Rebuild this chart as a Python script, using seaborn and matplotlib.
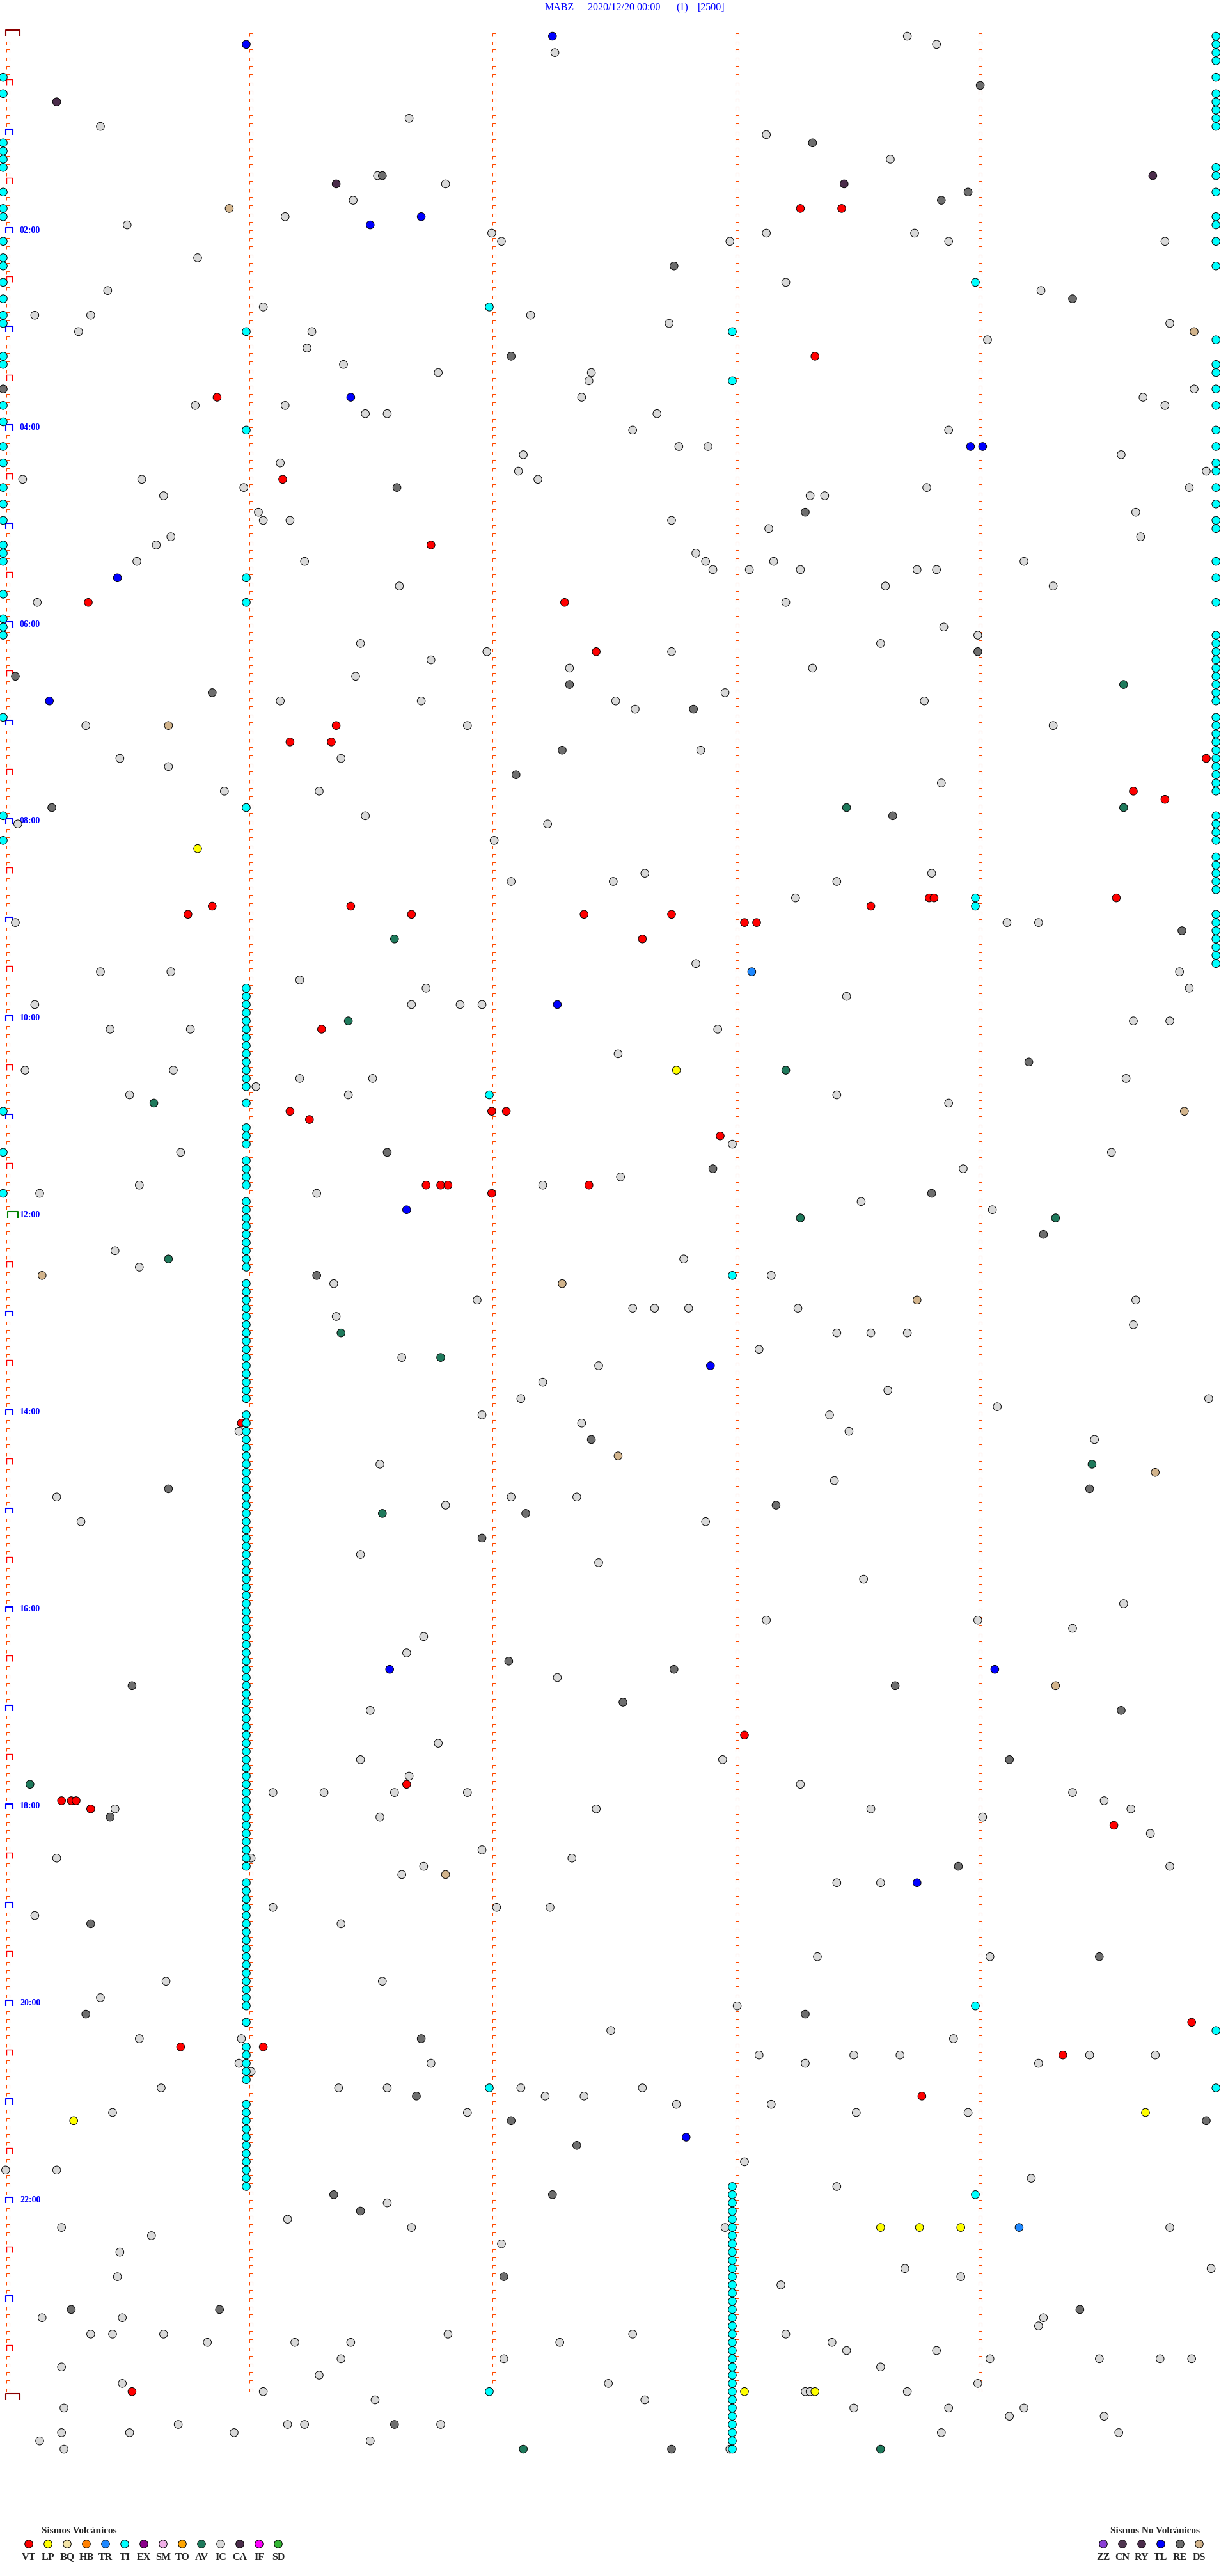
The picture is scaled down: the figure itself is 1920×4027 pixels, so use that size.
import numpy as np
import pandas as pd
import seaborn as sns
import matplotlib.pyplot as plt
from matplotlib.path import Path

# --------------
# event data: (row of 5 minutes, minute inside the row)
VT = [(21, 3.28), (21, 3.45), (39, 3.34), (44, 0.88), (54, 1.15), (62, 1.76), (69, 0.35), (69, 2.31),
      (75, 2.44), (84, 1.37), (86, 1.18), (86, 1.35), (88, 4.95), (92, 4.65), (93, 4.78), (105, 3.81),
      (105, 3.83), (105, 4.58), (106, 0.86), (106, 1.43), (106, 3.57), (107, 0.76), (107, 1.68),
      (107, 2.39), (107, 2.75), (108, 3.05), (108, 3.10), (110, 2.63), (121, 1.31), (131, 1.18),
      (132, 1.26), (131, 2.01), (131, 2.07), (134, 2.95), (140, 1.74), (140, 1.80), (140, 1.83),
      (141, 2.01), (140, 2.41), (169, 0.98), (207, 3.05), (213, 1.66), (215, 0.24), (215, 0.28),
      (215, 0.30), (216, 0.36), (218, 4.57), (242, 4.89), (245, 0.73), (245, 1.07), (246, 4.36),
      (251, 3.78), (287, 0.53)]
LP = [(99, 0.80), (126, 2.77), (254, 0.29), (253, 4.70), (267, 3.61), (267, 3.77), (267, 3.94),
      (287, 3.05), (287, 3.34)]
TR = [(114, 3.08), (267, 4.18)]
TL = [(1, 1.0), (0, 2.26), (22, 1.72), (23, 1.51), (44, 1.43), (50, 3.98), (50, 4.03), (66, 0.47),
      (81, 0.19), (118, 2.28), (143, 1.66), (162, 2.91), (199, 4.08), (199, 1.59), (225, 3.76), (256, 2.81)]
CA = [(8, 0.22), (17, 4.73), (18, 1.37), (18, 3.46)]
RE = [(6, 4.02), (13, 3.33), (17, 1.56), (19, 3.97), (20, 3.86), (28, 2.76), (32, 4.40), (39, 2.09),
      (43, 0.0), (55, 1.62), (58, 3.30), (75, 4.01), (78, 0.05), (79, 2.33), (80, 0.86), (82, 2.84),
      (87, 2.30), (90, 2.11), (94, 0.20), (95, 3.66), (109, 4.85), (125, 4.22), (136, 1.58), (138, 2.92),
      (141, 3.82), (146, 4.28), (151, 1.29), (171, 2.42), (177, 4.47), (177, 0.68), (179, 3.18),
      (180, 2.15), (183, 1.97), (198, 2.08), (199, 2.76), (201, 0.53), (201, 3.67), (203, 2.55),
      (204, 4.60), (210, 4.14), (217, 0.44), (223, 3.93), (230, 0.36), (234, 4.51), (241, 0.34),
      (241, 3.30), (244, 1.72), (251, 1.70), (254, 4.95), (254, 2.09), (257, 2.36), (263, 1.36),
      (265, 1.47), (263, 2.26), (273, 2.06), (277, 0.28), (277, 0.89), (277, 4.43), (291, 1.61), (294, 2.75)]
DS = [(21, 0.93), (36, 4.90), (84, 0.68), (131, 4.86), (151, 0.16), (152, 2.30), (154, 3.76),
      (173, 2.53), (175, 4.74), (201, 4.33), (224, 1.82)]
AV = [(79, 4.61), (94, 3.47), (94, 4.61), (110, 1.61), (120, 1.42), (126, 3.22), (130, 0.62),
      (144, 3.28), (144, 4.33), (149, 0.68), (158, 1.39), (161, 1.80), (174, 4.48), (180, 1.56),
      (213, 0.11), (294, 2.14), (294, 3.61)]
IC = [(2, 2.27), (0, 3.72), (1, 3.84), (10, 1.67), (11, 0.40), (12, 3.14), (15, 3.65), (17, 1.54),
      (20, 1.44), (18, 1.82), (22, 1.16), (23, 0.51), (24, 2.01), (25, 2.05), (25, 2.99), (24, 3.14),
      (24, 3.75), (25, 3.89), (25, 4.78), (27, 0.80), (31, 4.27), (30, 3.22), (31, 0.43), (33, 1.07),
      (34, 2.17), (34, 0.13), (34, 0.36), (36, 0.31), (36, 1.27), (35, 2.74), (35, 4.80), (38, 1.25),
      (37, 4.05), (40, 1.40), (41, 2.42), (42, 2.41), (41, 1.79), (43, 4.90), (44, 4.69), (45, 4.78),
      (45, 0.79), (45, 1.16), (46, 1.49), (46, 1.58), (44, 2.38), (46, 2.69), (48, 2.59), (48, 3.89),
      (50, 2.78), (50, 2.90), (51, 2.14), (52, 1.14), (54, 0.57), (54, 0.08), (53, 2.12), (54, 2.20),
      (55, 0.99), (56, 0.66), (56, 3.32), (56, 3.38), (55, 3.80), (53, 4.95), (51, 4.60), (55, 4.88),
      (58, 1.05), (59, 1.07), (59, 1.18), (58, 4.66), (59, 2.75), (60, 3.15), (61, 0.69), (62, 0.63),
      (61, 4.68), (63, 2.85), (64, 2.89), (65, 2.92), (64, 1.24), (64, 0.55), (65, 3.07), (64, 3.17),
      (65, 3.28), (65, 3.76), (65, 3.84), (64, 4.20), (67, 1.63), (67, 3.63), (67, 4.32), (69, 0.14),
      (69, 3.22), (72, 3.87), (73, 4.01), (74, 1.47), (75, 1.99), (75, 2.75), (74, 3.61), (77, 2.33),
      (76, 1.76), (78, 1.45), (77, 3.33), (81, 1.14), (81, 1.72), (81, 2.52), (82, 2.60), (80, 2.97),
      (81, 3.79), (84, 0.34), (88, 1.39), (84, 1.91), (87, 2.87), (84, 4.32), (88, 0.48), (89, 0.68),
      (91, 3.86), (92, 0.91), (92, 1.30), (95, 1.49), (96, 2.24), (96, 0.06), (98, 2.02), (102, 2.64),
      (103, 2.09), (103, 2.51), (103, 3.43), (102, 3.82), (105, 3.26), (108, 4.13), (108, 4.26),
      (108, 0.05), (113, 2.85), (114, 4.84), (114, 0.40), (114, 0.69), (115, 1.22), (116, 1.74),
      (118, 1.68), (118, 1.88), (118, 1.97), (117, 3.47), (116, 4.88), (118, 0.13), (121, 0.44),
      (121, 0.77), (121, 2.94), (120, 4.65), (120, 4.80), (124, 2.53), (126, 0.09), (126, 0.70),
      (127, 1.22), (127, 1.52), (128, 1.04), (127, 4.62), (129, 0.52), (129, 1.42), (129, 3.43),
      (130, 3.89), (135, 3.0), (136, 0.73), (140, 0.56), (136, 4.56), (140, 2.22), (139, 2.54),
      (138, 3.95), (141, 1.29), (141, 0.15), (142, 3.53), (143, 4.07), (148, 0.46), (150, 0.56),
      (149, 2.80), (152, 1.36), (151, 3.16), (156, 1.37), (155, 2.59), (155, 2.68), (155, 2.82),
      (155, 3.27), (154, 4.66), (157, 4.65), (154, 1.95), (158, 3.43), (158, 3.57), (158, 3.72),
      (161, 1.64), (160, 3.11), (162, 2.45), (164, 2.22), (166, 2.13), (165, 3.64), (166, 4.96),
      (167, 4.09), (168, 3.40), (169, 2.38), (170, 3.48), (168, 1.97), (170, 0.97), (171, 4.49),
      (174, 1.55), (176, 3.42), (178, 0.22), (178, 2.09), (178, 2.36), (179, 1.82), (181, 0.32),
      (181, 2.89), (185, 1.47), (186, 2.45), (188, 3.54), (191, 4.61), (193, 3.14), (193, 4.01),
      (194, 4.40), (195, 1.73), (197, 1.66), (200, 2.28), (204, 1.51), (208, 1.79), (210, 1.47),
      (210, 2.96), (213, 3.28), (212, 1.67), (214, 1.61), (214, 1.11), (214, 1.32), (214, 1.91),
      (214, 4.40), (215, 4.53), (216, 0.46), (217, 1.55), (216, 2.44), (216, 3.57), (217, 4.03),
      (216, 4.64), (219, 4.72), (221, 1.97), (222, 0.22), (222, 2.34), (222, 1.02), (223, 4.80),
      (225, 3.43), (225, 3.61), (224, 1.64), (223, 1.73), (228, 1.11), (228, 2.03), (228, 2.25),
      (229, 0.13), (230, 1.39), (237, 0.67), (234, 3.35), (234, 4.06), (237, 1.56), (239, 0.40),
      (240, 3.02), (244, 0.56), (247, 0.97), (247, 1.76), (243, 2.50), (246, 3.11), (247, 3.30),
      (246, 3.50), (246, 3.69), (244, 3.91), (247, 4.26), (246, 4.47), (246, 4.74), (248, 1.02),
      (244, 0.98), (250, 0.65), (250, 1.38), (250, 1.58), (250, 2.13), (251, 2.23), (251, 2.39),
      (250, 2.63), (252, 2.77), (253, 3.51), (253, 3.97), (253, 0.45), (253, 1.91), (252, 3.16),
      (259, 3.05), (261, 4.23), (260, 0.22), (260, 0.01), (262, 3.43), (264, 1.58), (266, 1.17),
      (267, 0.24), (267, 1.68), (267, 2.97), (267, 4.80), (268, 0.61), (270, 0.48), (269, 2.05),
      (273, 0.47), (272, 3.71), (272, 4.97), (273, 3.94), (274, 3.20), (278, 0.16), (278, 0.49),
      (280, 0.36), (280, 0.45), (280, 0.66), (281, 0.84), (281, 1.20), (281, 1.43), (283, 1.39),
      (284, 0.24), (285, 1.30), (286, 0.49), (287, 1.07), (288, 1.53), (289, 0.25), (291, 0.72),
      (291, 1.17), (291, 1.24), (292, 0.24), (292, 0.52), (292, 0.95), (293, 0.15), (293, 1.51),
      (294, 0.25), (280, 1.83), (281, 2.29), (280, 2.59), (278, 4.28), (279, 4.26), (281, 3.41),
      (282, 3.47), (280, 3.22), (282, 3.84), (283, 4.51), (283, 4.76), (283, 4.89), (283, 2.06),
      (283, 4.06), (284, 3.61), (286, 4.01), (286, 2.49), (287, 3.30), (287, 3.32), (287, 3.72),
      (290, 4.14), (289, 4.20), (290, 4.53), (289, 3.50), (289, 3.89), (288, 2.64), (291, 1.80),
      (294, 2.99), (292, 4.59), (292, 3.86)]

# tremor (TI) rows, grouped by the minute they sit on
TI_min = [0.0, 1.0, 2.0, 3.0, 4.0, 4.99]
TI_m0 = [5, 7, 13, 14, 15, 16, 19, 21, 22, 25, 27, 28, 30, 32, 34, 35, 39, 40, 45, 47, 50, 52, 55, 57,
         59, 62, 63, 64, 68, 71, 72, 73, 83, 95, 98, 131, 136, 141]
TI_m1 = [36, 48, 66, 69, 94, 116, 117, 118, 119, 120, 121, 122, 123, 124, 125, 126, 127, 128, 130,
         133, 134, 135, 137, 138, 139, 140, 142, 143, 144, 145, 146, 147, 148, 149, 150, 152, 153, 154,
         155, 156, 157, 158, 159, 160, 161, 162, 163, 164, 165, 166, 168, 169, 170, 171, 172, 173, 174,
         175, 176, 177, 178, 179, 180, 181, 182, 183, 184, 185, 186, 187, 188, 189, 190, 191, 192, 193,
         194, 195, 196, 197, 198, 199, 200, 201, 202, 203, 204, 205, 206, 207, 208, 209, 210, 211, 212,
         213, 214, 215, 216, 217, 218, 219, 220, 221, 222, 223, 225, 226, 227, 228, 229, 230, 231, 232,
         233, 234, 235, 236, 237, 238, 239, 240, 242, 245, 246, 247, 248, 249, 252, 253, 254, 255, 256,
         257, 258, 259, 260, 261, 262]
TI_m2 = [33, 129, 250, 287]
TI_m3 = [36, 42, 151, 262, 263, 264, 265, 266, 267, 268, 269, 270, 271, 272, 273, 274, 275, 276, 277,
         278, 279, 280, 281, 282, 283, 284, 285, 286, 287, 288, 289, 290, 291, 292, 293, 294]
TI_m4 = [30, 105, 106, 240, 263]
TI_m5 = [0, 1, 2, 3, 5, 7, 8, 9, 10, 11, 16, 17, 19, 22, 23, 25, 28, 37, 40, 41, 43, 45, 48, 50, 52,
         53, 55, 57, 59, 60, 64, 66, 69, 73, 74, 75, 76, 77, 78, 79, 80, 81, 83, 84, 85, 86, 87, 88, 89,
         90, 91, 92, 95, 96, 97, 98, 100, 101, 102, 103, 104, 107, 108, 109, 110, 111, 112, 113, 243, 250]

hour_labels = ['02:00', '04:00', '06:00', '08:00', '10:00', '12:00', '14:00', '16:00', '18:00',
               '20:00', '22:00']

volc_codes = ['VT', 'LP', 'BQ', 'HB', 'TR', 'TI', 'EX', 'SM', 'TO', 'AV', 'IC', 'CA', 'IF', 'SD']
volc_colors = ['#ff0000', '#ffff00', '#f3e4a6', '#ff8000', '#1e88ff', '#00ffff', '#8b008b', '#f0b0e8',
               '#ffa500', '#1f7a5c', '#d9d9d9', '#4b2d4b', '#ff00ff', '#33b533']
novolc_codes = ['ZZ', 'CN', 'RY', 'TL', 'RE', 'DS']
novolc_colors = ['#8a3fd6', '#4f3550', '#4b2d4b', '#0000ff', '#6e6e6e', '#d2b48c']

# --------------
sns.set_theme(style="white")
plt.rcParams['font.family'] = ['Liberation Serif', 'DejaVu Serif']

W, H = 1920, 4027
X0, XS = 5, 380          # pixel of minute 0, pixels per minute
Y0, YS = 56.5, 12.83     # pixel of row 0, pixels per row

fig = plt.figure(figsize=(W / 100, H / 100), dpi=100)
ax = fig.add_axes([0, 0, 1, 1])
ax.set_xlim(-X0 / XS, (W - X0) / XS)
ax.set_ylim((H - Y0) / YS, -Y0 / YS)
ax.axis('off')


def bracket(w, h):
    return Path([(-w / 2, -h / 2), (-w / 2, h / 2), (w / 2, h / 2), (w / 2, -h / 2)],
                [Path.MOVETO, Path.LINETO, Path.LINETO, Path.LINETO])


# dotted minute lines, one small mark every 5 minutes
rows_all = np.arange(0, 288)
for k in range(5):
    rr = rows_all if k > 0 else rows_all[rows_all % 6 != 0]
    ax.scatter(np.full(len(rr), k + 0.02), rr - 0.18, marker=bracket(5, 5), s=(5 * 0.72) ** 2,
               facecolors='none', edgecolors='#ff4a00', linewidths=0.75, zorder=1)

# half hour / hour / day marks on the left line
half = np.array([r for r in range(6, 288, 12)])
hours = np.array([r for r in range(12, 288, 12) if r != 144])
ax.scatter(np.full(len(half), 0.0245), half - 0.35, marker=bracket(9, 9), s=(9 * 0.72) ** 2,
           facecolors='none', edgecolors='#ff0000', linewidths=1.0, zorder=1)
ax.scatter(np.full(len(hours), 0.0255), hours - 0.31, marker=bracket(11, 8.5), s=(11 * 0.72) ** 2,
           facecolors='none', edgecolors='#0000ff', linewidths=1.5, zorder=1)
ax.scatter([0.039], [143.61], marker=bracket(16.5, 10), s=(16.5 * 0.72) ** 2,
           facecolors='none', edgecolors='#008000', linewidths=1.5, zorder=1)
ax.scatter([0.039, 0.039], [-0.37, 287.63], marker=bracket(21.5, 10.5), s=(21.5 * 0.72) ** 2,
           facecolors='none', edgecolors='#8b0000', linewidths=1.5, zorder=1)

for i, lab in enumerate(hour_labels):
    ax.text(26 / XS, 24 * (i + 1) - 0.33, lab, color='#0000ff', fontsize=10, fontweight='bold',
            ha='left', va='center')

# build event table
frames = []
for code, pts in [('IC', IC), ('RE', RE), ('CA', CA), ('DS', DS), ('AV', AV), ('TL', TL),
                  ('LP', LP), ('TR', TR), ('VT', VT)]:
    arr = np.array(pts, dtype=float)
    frames.append(pd.DataFrame({'tipo': code, 'fila': arr[:, 0], 'minuto': arr[:, 1]}))
for m, rows in zip(TI_min, [TI_m0, TI_m1, TI_m2, TI_m3, TI_m4, TI_m5]):
    frames.append(pd.DataFrame({'tipo': 'TI', 'fila': rows, 'minuto': m}))
df = pd.concat(frames, ignore_index=True)

palette = dict(zip(volc_codes, volc_colors))
palette.update(dict(zip(novolc_codes, novolc_colors)))

sns.scatterplot(data=df, x='minuto', y='fila', hue='tipo', palette=palette, s=81,
                edgecolor='black', linewidth=0.7, legend=False, ax=ax, zorder=3)

# title
for txt, xp in [('MABZ', 852), ('2020/12/20 00:00', 919), ('(1)', 1057), ('[2500]', 1091)]:
    fig.text(xp / W, 1 - 12.5 / H, txt, color='#0000ff', fontsize=11.5, ha='left', va='center')


# legends at the bottom
def legend_row(codes, colors, x_first, title, title_x):
    n = len(codes)
    left = x_first - 15
    lax = fig.add_axes([left / W, (H - 4007) / H, 30 * n / W, 60 / H])
    lax.set_xlim(-0.5, n - 0.5)
    lax.set_ylim(3, -3)
    lax.axis('off')
    leg = pd.DataFrame({'tipo': codes, 'pos': np.arange(n), 'y': 0})
    sns.scatterplot(data=leg, x='pos', y='y', hue='tipo', palette=dict(zip(codes, colors)),
                    s=81, edgecolor='black', linewidth=0.7, legend=False, ax=lax)
    for i, c in enumerate(codes):
        lax.text(i, 2.05, c, fontsize=11.5, fontweight='bold', ha='center', va='center')
    fig.text(title_x / W, 1 - 3957 / H, title, fontsize=11, fontweight='bold',
             ha='center', va='center')


legend_row(volc_codes, volc_colors, 45, 'Sismos Volcánicos', 124)
legend_row(novolc_codes, novolc_colors, 1725, 'Sismos No Volcánicos', 1806)

fig.savefig('out.png', dpi=100, facecolor='white')
